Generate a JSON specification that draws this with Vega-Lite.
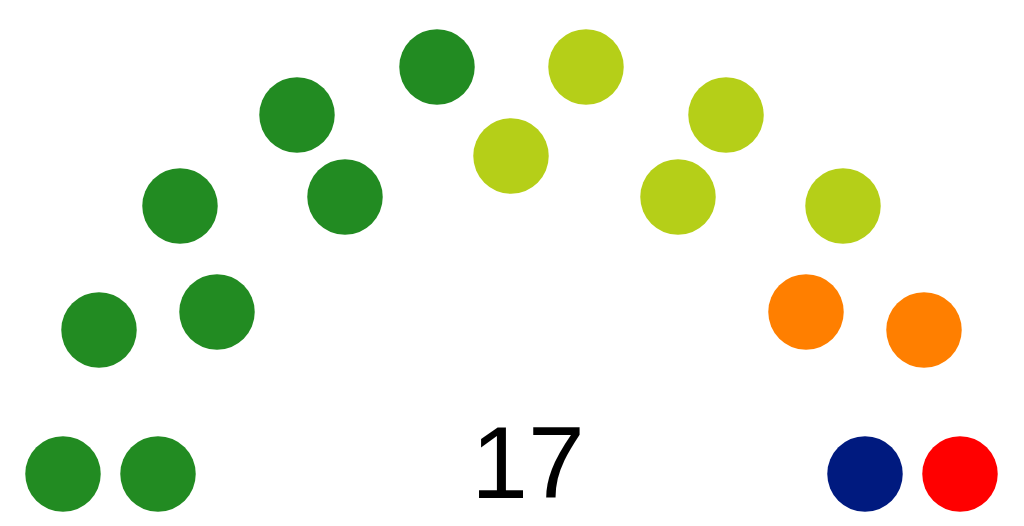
{
  "$schema": "https://vega.github.io/schema/vega-lite/v6.json",
  "width": 1024,
  "height": 526,
  "autosize": {"type": "none"},
  "padding": 0,
  "background": "white",
  "config": {"view": {"stroke": null}},
  "datasets": {
    "seats": [
      {"seat": 1, "party": "A", "x": 63, "y": 474},
      {"seat": 2, "party": "A", "x": 158, "y": 474},
      {"seat": 3, "party": "A", "x": 99, "y": 330},
      {"seat": 4, "party": "A", "x": 217, "y": 312},
      {"seat": 5, "party": "A", "x": 180, "y": 206},
      {"seat": 6, "party": "A", "x": 297, "y": 115},
      {"seat": 7, "party": "A", "x": 345, "y": 197},
      {"seat": 8, "party": "A", "x": 437, "y": 67},
      {"seat": 9, "party": "B", "x": 511, "y": 156},
      {"seat": 10, "party": "B", "x": 586, "y": 67},
      {"seat": 11, "party": "B", "x": 678, "y": 197},
      {"seat": 12, "party": "B", "x": 726, "y": 115},
      {"seat": 13, "party": "B", "x": 843, "y": 206},
      {"seat": 14, "party": "C", "x": 806, "y": 312},
      {"seat": 15, "party": "C", "x": 924, "y": 330},
      {"seat": 16, "party": "D", "x": 865, "y": 474},
      {"seat": 17, "party": "E", "x": 960, "y": 474}
    ],
    "total": [{"label": "17", "x": 528, "y": 498}]
  },
  "layer": [
    {
      "data": {"name": "seats"},
      "mark": {"type": "circle", "opacity": 1, "size": 5700},
      "encoding": {
        "x": {"field": "x", "type": "quantitative", "scale": {"domain": [0, 1024], "nice": false, "zero": false}, "axis": null},
        "y": {"field": "y", "type": "quantitative", "scale": {"domain": [0, 526], "nice": false, "zero": false, "reverse": true}, "axis": null},
        "color": {
          "field": "party",
          "type": "nominal",
          "scale": {
            "domain": ["A", "B", "C", "D", "E"],
            "range": ["#228B22", "#B5CF18", "#FF7F00", "#001A7F", "#FF0000"]
          },
          "legend": null
        }
      }
    },
    {
      "data": {"name": "total"},
      "mark": {"type": "text", "font": "Liberation Sans", "fontSize": 102, "align": "center", "baseline": "alphabetic", "color": "black"},
      "encoding": {
        "x": {"field": "x", "type": "quantitative"},
        "y": {"field": "y", "type": "quantitative"},
        "text": {"field": "label"}
      }
    }
  ]
}
